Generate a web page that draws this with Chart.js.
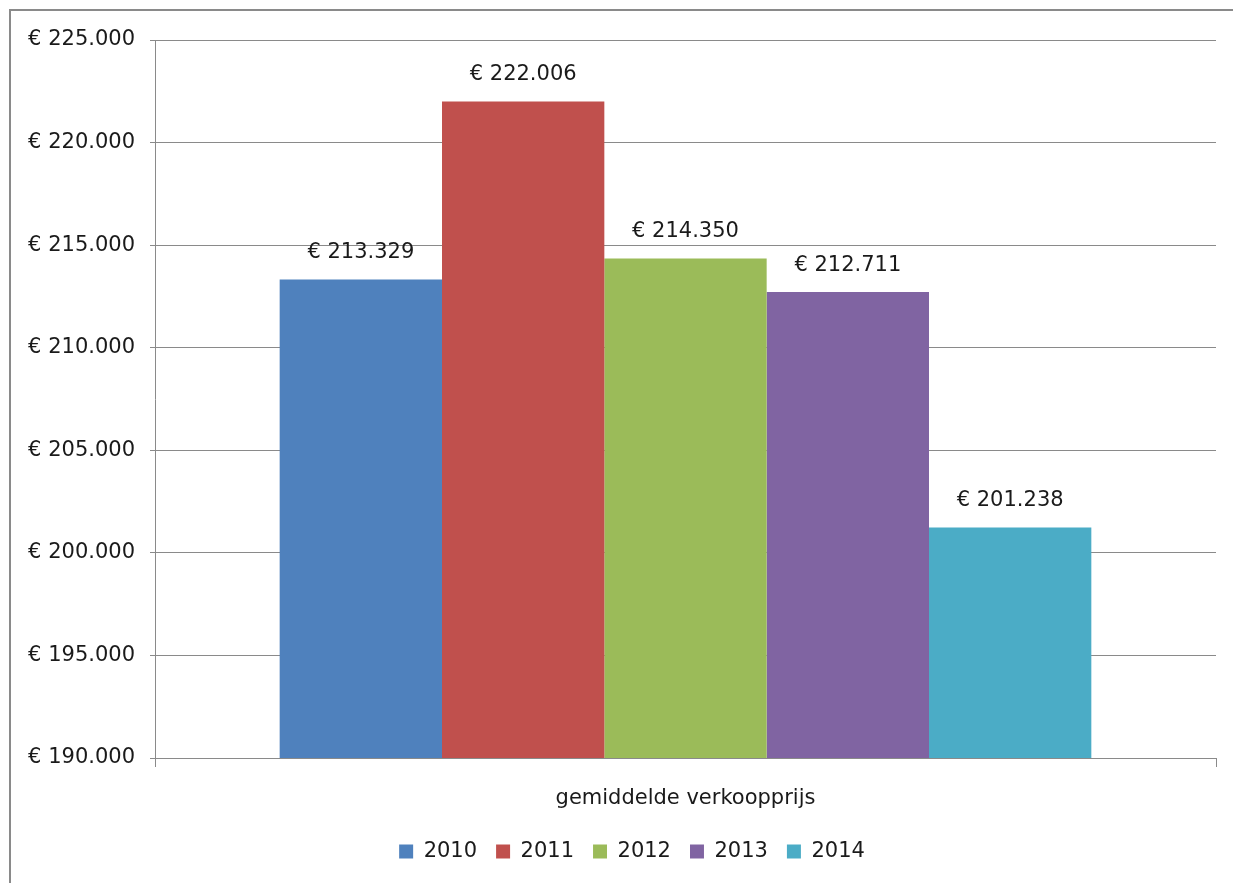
<!DOCTYPE html>
<html><head><meta charset="utf-8">
<script src="https://cdn.jsdelivr.net/npm/chart.js@4"></script>
<style>html,body{margin:0;padding:0;background:#fff}#wrap{width:1233px;height:883px;position:relative}</style>
</head><body><div id="wrap"><canvas id="c" width="1233" height="883"></canvas></div>
<script>
const categories = ["gemiddelde verkoopprijs"];
const years = ["2010", "2011", "2012", "2013", "2014"];
const values2010 = [213329];
const values2011 = [222006];
const values2012 = [214350];
const values2013 = [212711];
const values2014 = [201238];
const colors = ["#4F81BD", "#C0504D", "#9BBB59", "#8064A2", "#4BACC6"];
const yMin = 190000, yMax = 225000, yStep = 5000;

const FONT = "'DejaVu Sans', sans-serif";
const fmt = v => "€ " + v.toLocaleString("de-DE");

const series = [values2010, values2011, values2012, values2013, values2014];

const frame = {
  id: "frame",
  beforeDraw(chart) {
    const ctx = chart.ctx;
    ctx.save();
    ctx.fillStyle = "#fff";
    ctx.fillRect(0, 0, chart.width, chart.height);
    ctx.strokeStyle = "#8a8a8a";
    ctx.lineWidth = 2;
    ctx.beginPath();
    ctx.moveTo(10, chart.height);
    ctx.lineTo(10, 10);
    ctx.lineTo(chart.width, 10);
    ctx.stroke();
    ctx.restore();
  }
};

const legendShift = {
  id: "legendShift",
  afterUpdate(chart) {
    if (chart.legend) {
      chart.legend.left += 24;
      chart.legend.right += 24;
    }
  }
};

const dataLabels = {
  id: "dataLabels",
  afterDatasetsDraw(chart) {
    const ctx = chart.ctx;
    ctx.save();
    ctx.font = "21px " + FONT;
    ctx.fillStyle = "#1a1a1a";
    ctx.textAlign = "center";
    ctx.textBaseline = "middle";
    chart.data.datasets.forEach((ds, i) => {
      chart.getDatasetMeta(i).data.forEach((bar, j) => {
        ctx.fillText(fmt(ds.data[j]), bar.x, bar.y - 27);
      });
    });
    ctx.restore();
  }
};

new Chart(document.getElementById("c"), {
  type: "bar",
  data: {
    labels: categories,
    datasets: years.map((y, i) => ({
      label: y,
      data: series[i],
      backgroundColor: colors[i],
      borderWidth: 0,
      categoryPercentage: 0.765,
      barPercentage: 1.0
    }))
  },
  options: {
    responsive: false,
    animation: false,
    layout: { padding: { left: 0, right: 17, top: 40, bottom: 11 } },
    plugins: {
      tooltip: { enabled: false },
      legend: {
        position: "bottom",
        labels: {
          font: { family: FONT, size: 21 },
          color: "#1a1a1a",
          boxWidth: 14,
          boxHeight: 14,
          padding: 19
        }
      }
    },
    scales: {
      x: {
        grid: { drawOnChartArea: false, drawTicks: true, tickLength: 9, color: "#8a8a8a", offset: true },
        border: { color: "#8a8a8a", width: 1 },
        ticks: { font: { family: FONT, size: 21 }, color: "#1a1a1a", padding: 19 },
        afterFit(s) { s.height = 64; }
      },
      y: {
        min: yMin, max: yMax,
        grid: { color: "#8a8a8a", tickLength: 5, lineWidth: 1 },
        border: { color: "#8a8a8a", width: 1 },
        ticks: {
          stepSize: yStep,
          font: { family: FONT, size: 21 },
          color: "#1a1a1a",
          padding: 15,
          callback: v => fmt(v)
        },
        afterFit(s) { s.width = 155; }
      }
    }
  },
  plugins: [frame, legendShift, dataLabels]
});
</script>
</body></html>
